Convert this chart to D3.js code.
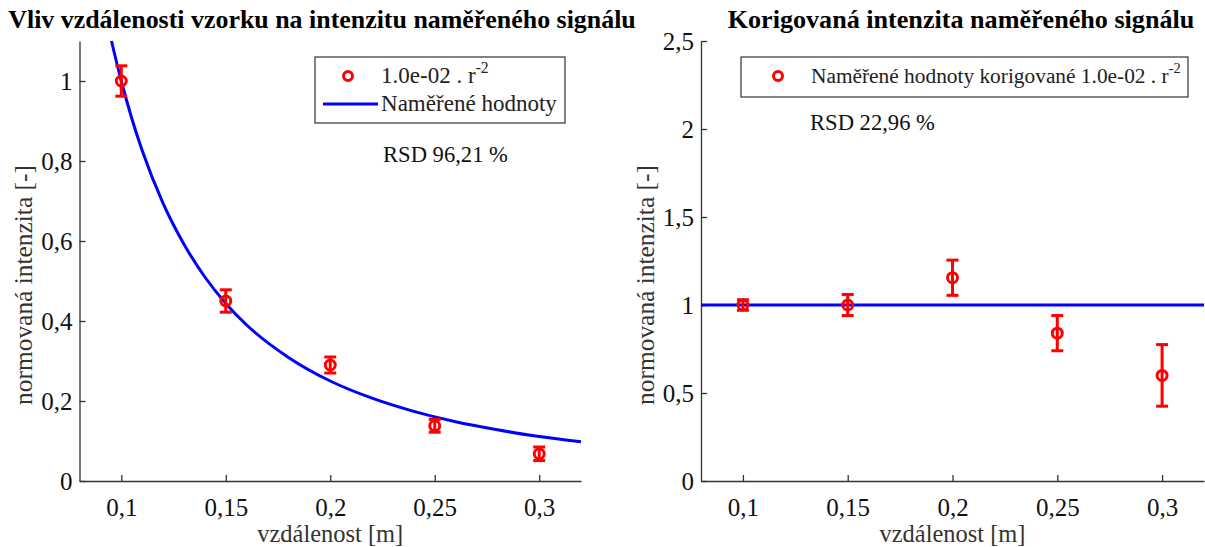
<!DOCTYPE html>
<html><head><meta charset="utf-8">
<script src="https://cdn.jsdelivr.net/npm/d3@7"></script>
<style>
body{margin:0;background:#fff;}
svg{display:block;}
</style></head>
<body><svg id="c" width="1205" height="547" font-family="'Liberation Serif', serif"></svg>
<script>
// ---- data ----
const distances = [0.1, 0.15, 0.2, 0.25, 0.3];
const measured = [1.0, 0.45, 0.29, 0.138, 0.068];
const measuredErr = [0.038, 0.028, 0.02, 0.016, 0.017];
const corrected = [1.0, 1.0, 1.155, 0.84, 0.6];
const correctedErr = [0.03, 0.06, 0.1, 0.1, 0.175];
const curveX = [0.0953, 0.1, 0.105, 0.11, 0.12, 0.13, 0.14, 0.15, 0.16, 0.18, 0.2, 0.22, 0.24, 0.26, 0.28, 0.3, 0.32];
const curveY = [1.1, 1.0, 0.907, 0.826, 0.694, 0.592, 0.51, 0.444, 0.39, 0.309, 0.25, 0.207, 0.174, 0.148, 0.128, 0.111, 0.098];
const correctedLineX = [0.08, 0.32];
const correctedLineY = [1, 1];
const xTicks = [0.1, 0.15, 0.2, 0.25, 0.3];
const yTicksLeft = [0, 0.2, 0.4, 0.6, 0.8, 1];
const yTicksRight = [0, 0.5, 1, 1.5, 2, 2.5];
const titles = ["Vliv vzdálenosti vzorku na intenzitu naměřeného signálu", "Korigovaná intenzita naměřeného signálu"];
const xLabel = "vzdálenost [m]";
const yLabel = "normovaná intenzita [-]";
const rsdTexts = ["RSD 96,21 %", "RSD 22,96 %"];

const FONT = "'Liberation Serif', 'Times New Roman', serif";
const loc = d3.formatLocale({decimal: ",", thousands: " ", grouping: [3], currency: ["", ""]});
const fmt = d => loc.format("~g")(d);

const svg = d3.select("#c");
const RED = "#ff0000", BLUE = "#0000ff", AX = "#333";

// scale a text's font size so that its rendered width matches a target width
function fit(t, w) {
  const base = +t.attr("font-size");
  const len = t.node().getComputedTextLength();
  if (len > 0) t.attr("font-size", base * w / len);
  return t;
}

function panel(opts) {
  const g = svg.append("g");
  const x = d3.scaleLinear().domain([0.08, 0.32]).range([opts.x0, opts.x1]);
  const y = d3.scaleLinear().domain(opts.yDomain).range([481, 41]);

  const xa = g.append("g").attr("transform", "translate(0,481)")
    .call(d3.axisBottom(x).tickValues(xTicks).tickFormat(fmt).tickSizeInner(-6).tickSizeOuter(0).tickPadding(17));
  const ya = g.append("g").attr("transform", `translate(${opts.x0},0)`)
    .call(d3.axisLeft(y).tickValues(opts.yTicks).tickFormat(fmt).tickSizeInner(-6).tickSizeOuter(0).tickPadding(7));
  [xa, ya].forEach(a => {
    a.attr("font-family", FONT).attr("font-size", 25);
    a.select(".domain").attr("stroke", AX).attr("stroke-width", 1.3);
    a.selectAll(".tick line").attr("stroke", AX).attr("stroke-width", 1.3);
    a.selectAll(".tick text").attr("fill", "#111");
  });
  xa.selectAll(".tick text").attr("dy", "0.71em");
  ya.selectAll(".tick text").attr("dy", "0.35em");

  const line = d3.line().x(d => x(d[0])).y(d => y(d[1])).curve(d3.curveMonotoneX);
  g.append("path").datum(opts.lineX.map((v, i) => [v, opts.lineY[i]]))
    .attr("d", line).attr("fill", "none").attr("stroke", BLUE).attr("stroke-width", 3);

  const pts = distances.map((d, i) => ({x: d, y: opts.vals[i], e: opts.errs[i]}));
  const eg = g.append("g").attr("stroke", RED).attr("stroke-width", 3).attr("fill", "none");
  pts.forEach(p => {
    const cx = x(p.x);
    eg.append("line").attr("x1", cx).attr("x2", cx).attr("y1", y(p.y - p.e)).attr("y2", y(p.y + p.e));
    eg.append("line").attr("x1", cx - 6).attr("x2", cx + 6).attr("y1", y(p.y - p.e)).attr("y2", y(p.y - p.e));
    eg.append("line").attr("x1", cx - 6).attr("x2", cx + 6).attr("y1", y(p.y + p.e)).attr("y2", y(p.y + p.e));
    eg.append("circle").attr("cx", cx).attr("cy", y(p.y)).attr("r", 5);
  });

  fit(svg.append("text").attr("x", opts.titleX).attr("y", 28).attr("text-anchor", "middle")
    .attr("font-size", 21).attr("font-weight", "bold").attr("fill", "#000").text(opts.title), opts.titleW);
  fit(svg.append("text").attr("x", (opts.x0 + opts.x1) / 2).attr("y", 542).attr("text-anchor", "middle")
    .attr("font-size", 22).attr("fill", "#333").text(xLabel), 146);
  fit(svg.append("text").attr("transform", `translate(${opts.yLabX},${285}) rotate(-90)`).attr("text-anchor", "middle")
    .attr("font-size", 22).attr("fill", "#333").text(yLabel), 240);

  const L = opts.legend;
  svg.append("rect").attr("x", L.x).attr("y", L.y).attr("width", L.w).attr("height", L.h)
    .attr("fill", "#fff").attr("stroke", "#333").attr("stroke-width", 1.2);
  const probe = svg.append("text").attr("font-size", 20).text(L.fitText);
  const lfs = 20 * L.fitW / probe.node().getComputedTextLength();
  probe.remove();
  L.items.forEach((it, i) => {
    const iy = L.y + 19 + i * 28;
    if (it.type === "marker") {
      svg.append("circle").attr("cx", L.mx).attr("cy", iy).attr("r", 4.5)
        .attr("fill", "none").attr("stroke", RED).attr("stroke-width", 3);
    } else {
      svg.append("line").attr("x1", L.x + 8).attr("x2", L.x + 63).attr("y1", iy).attr("y2", iy)
        .attr("stroke", BLUE).attr("stroke-width", 3);
    }
    const t = svg.append("text").attr("x", L.tx).attr("y", iy + 7).attr("font-size", lfs).attr("fill", "#222");
    t.append("tspan").text(it.text);
    if (it.sup) t.append("tspan").attr("dy", -10).attr("font-size", lfs * 0.68).text(it.sup);
  });
  fit(svg.append("text").attr("x", opts.rsdX).attr("y", opts.rsdY).attr("font-size", 20).attr("fill", "#111").text(opts.rsd), 125);
}

panel({
  x0: 79.5, x1: 581, yDomain: [0, 1.1], yTicks: yTicksLeft,
  vals: measured, errs: measuredErr, lineX: curveX, lineY: curveY,
  title: titles[0], titleX: 322, titleW: 628, yLabX: 32,
  legend: {x: 315, y: 57, w: 250, h: 66, mx: 348, tx: 381, fitText: "Naměřené hodnoty", fitW: 176,
    items: [{type: "marker", text: "1.0e-02 . r", sup: "-2"}, {type: "line", text: "Naměřené hodnoty"}]},
  rsd: rsdTexts[0], rsdX: 383, rsdY: 162
});
panel({
  x0: 701, x1: 1204, yDomain: [0, 2.5], yTicks: yTicksRight,
  vals: corrected, errs: correctedErr, lineX: correctedLineX, lineY: correctedLineY,
  title: titles[1], titleX: 961, titleW: 467, yLabX: 654,
  legend: {x: 741, y: 57, w: 447, h: 40, mx: 778, tx: 811, fitText: "Naměřené hodnoty korigované 1.0e-02 . r", fitW: 358,
    items: [{type: "marker", text: "Naměřené hodnoty korigované 1.0e-02 . r", sup: "-2"}]},
  rsd: rsdTexts[1], rsdX: 810, rsdY: 130
});
</script></body></html>
